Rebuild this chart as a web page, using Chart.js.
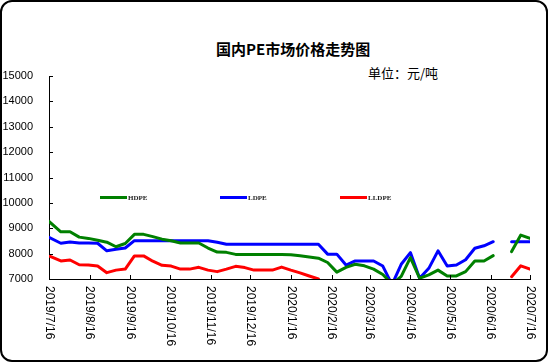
<!DOCTYPE html>
<html>
<head>
<meta charset="utf-8">
<script src="https://cdn.jsdelivr.net/npm/chart.js@4.4.0/dist/chart.umd.min.js"></script>
<style>
  body { margin: 0; background: #fff; }
  #wrap { position: relative; width: 550px; height: 364px; }
  #frame { position: absolute; left: 0; top: 0; width: 548px; height: 362px; box-sizing: border-box;
           border: 2px solid #000; border-radius: 12px; }
  #title { position: absolute; left: 216px; top: 41px; font: bold 15px "Noto Sans CJK SC"; line-height: 15px;
           white-space: nowrap; color: #000; }
  #unit { position: absolute; left: 368px; top: 66px; font: 13px "Noto Sans CJK SC"; line-height: 13px;
          white-space: nowrap; color: #000; }
  canvas { position: absolute; left: 0; top: 0; }
</style>
</head>
<body>
<div id="wrap">
  <div id="frame"></div>
  <div id="title">国内PE市场价格走势图</div>
  <div id="unit">单位：元/吨</div>
  <canvas id="peChart" width="550" height="364"></canvas>
</div>
<script>
// weekly price dates
const dates = [
  '2019/7/16', '2019/7/25', '2019/8/1', '2019/8/8', '2019/8/15', '2019/8/22', '2019/8/29',
  '2019/9/5', '2019/9/12', '2019/9/19', '2019/9/26', '2019/10/3', '2019/10/10', '2019/10/17',
  '2019/10/24', '2019/10/31', '2019/11/7', '2019/11/14', '2019/11/21', '2019/11/28', '2019/12/5',
  '2019/12/12', '2019/12/19', '2019/12/26', '2020/1/2', '2020/1/9', '2020/1/16', '2020/1/23',
  '2020/1/30', '2020/2/6', '2020/2/13', '2020/2/20', '2020/2/27', '2020/3/5', '2020/3/12',
  '2020/3/19', '2020/3/26', '2020/4/2', '2020/4/9', '2020/4/16', '2020/4/23', '2020/4/30',
  '2020/5/7', '2020/5/14', '2020/5/21', '2020/5/28', '2020/6/4', '2020/6/11', '2020/6/18',
  '2020/6/25', '2020/7/2', '2020/7/9', '2020/7/16'
];

const hdpe = [
  9270, 8860, 8860, 8650, 8600, 8530, 8450, 8270, 8400, 8760, 8760, 8670, 8570, 8510,
  8420, 8420, 8420, 8220, 8060, 8050, 7970, 7970, 7970, 7970, 7970, 7970, 7960, 7920,
  7870, 7820, 7650, 7270, 7460, 7580, 7520, 7390, 7180, 6800, 7100, 7840, 7030, 7160,
  7350, 7120, 7120, 7290, 7710, 7710, 7920, null, 8080, 8730, 8600
];
const ldpe = [
  8640, 8410, 8460, 8420, 8420, 8410, 8110, 8170, 8220, 8510, 8510, 8510, 8510, 8510,
  8510, 8510, 8510, 8510, 8450, 8370, 8370, 8370, 8370, 8370, 8370, 8370, 8370, 8370,
  8370, 8370, 7980, 7980, 7550, 7710, 7710, 7710, 7510, 6780, 7580, 8040, 7030, 7420,
  8110, 7510, 7550, 7760, 8210, 8310, 8470, null, 8470, 8470, 8470
];
const lldpe = [
  7910, 7710, 7750, 7560, 7550, 7510, 7250, 7350, 7390, 7910, 7910, 7700, 7540, 7510,
  7390, 7390, 7460, 7350, 7290, 7390, 7500, 7450, 7350, 7350, 7350, 7470, 7350, 7240,
  7120, 7000, null, null, null, null, null, null, null, null, null, null, null, null,
  null, null, null, null, null, null, null, null, 7090, 7520, 7390
];

const tickLabels = [
  '2019/7/16', '2019/8/16', '2019/9/16', '2019/10/16', '2019/11/16', '2019/12/16', '2020/1/16',
  '2020/2/16', '2020/3/16', '2020/4/16', '2020/5/16', '2020/6/16', '2020/7/16'
];

const seriesNames = ['HDPE', 'LDPE', 'LLDPE'];
const seriesColors = ['#008000', '#0000ff', '#ff0000'];

// days since first date
function dayOf(s) {
  const p = s.split('/').map(Number);
  return (Date.UTC(p[0], p[1] - 1, p[2]) - Date.UTC(2019, 6, 16)) / 86400000;
}
const days = dates.map(dayOf);
const tickDays = tickLabels.map(dayOf);

function toPoints(vals) {
  return vals.map((v, i) => ({ x: days[i], y: v }));
}

const decor = {
  id: 'decor',
  afterDraw(chart) {
    const ctx = chart.ctx;
    const a = chart.chartArea;
    const x = chart.scales.x, y = chart.scales.y;
    ctx.save();
    ctx.strokeStyle = '#000';
    ctx.lineWidth = 1;
    ctx.beginPath();
    y.ticks.forEach(t => {
      const py = Math.round(y.getPixelForValue(t.value)) + 0.5;
      ctx.moveTo(a.left, py);
      ctx.lineTo(a.left + 4, py);
    });
    x.ticks.forEach(t => {
      const px = Math.round(x.getPixelForValue(t.value)) + 0.5;
      ctx.moveTo(px, a.bottom);
      ctx.lineTo(px, a.bottom - 4);
    });
    ctx.stroke();

    // x labels, turned clockwise
    ctx.fillStyle = '#000';
    ctx.font = '12px "Liberation Sans"';
    ctx.textAlign = 'left';
    ctx.textBaseline = 'middle';
    x.ticks.forEach((t, i) => {
      ctx.save();
      ctx.translate(x.getPixelForValue(t.value), a.bottom + 7);
      ctx.rotate(Math.PI / 2);
      ctx.fillText(tickLabels[i], 0, 0);
      ctx.restore();
    });

    // legend inside the plot
    ctx.font = 'bold 7px "Liberation Serif"';
    chart.data.datasets.forEach((ds, i) => {
      const lx = 100 + 120 * i, ly = 197.5;
      ctx.strokeStyle = ds.borderColor;
      ctx.lineWidth = 3;
      ctx.beginPath();
      ctx.moveTo(lx, ly);
      ctx.lineTo(lx + 27, ly);
      ctx.stroke();
      ctx.fillStyle = '#222';
      ctx.fillText(ds.label, lx + 28, ly + 0.5);
    });
    ctx.restore();
  }
};

new Chart(document.getElementById('peChart'), {
  type: 'line',
  data: {
    datasets: [hdpe, ldpe, lldpe].map((vals, i) => ({
      label: seriesNames[i],
      data: toPoints(vals),
      borderColor: seriesColors[i],
      backgroundColor: seriesColors[i],
      borderWidth: 3,
      pointRadius: 0,
      tension: 0,
      borderJoinStyle: 'round',
      borderCapStyle: 'round',
      spanGaps: false
    }))
  },
  options: {
    responsive: false,
    animation: false,
    devicePixelRatio: 1,
    layout: { padding: { top: 76, right: 20, bottom: 0, left: 0 } },
    plugins: { legend: { display: false }, tooltip: { enabled: false } },
    scales: {
      x: {
        type: 'linear',
        min: 0,
        max: 366,
        grid: { display: false },
        border: { display: true, color: '#000', width: 1 },
        ticks: { display: false },
        afterBuildTicks: s => { s.ticks = tickDays.map(v => ({ value: v })); },
        afterFit: s => { s.height = 85; }
      },
      y: {
        min: 7000,
        max: 15000,
        grid: { display: false },
        border: { display: true, color: '#000', width: 1 },
        ticks: {
          stepSize: 1000,
          color: '#000',
          padding: 8,
          font: { family: 'Liberation Sans', size: 11 },
          callback: v => String(v)
        },
        afterFit: s => { s.width = 49; }
      }
    }
  },
  plugins: [decor]
});
</script>
</body>
</html>
